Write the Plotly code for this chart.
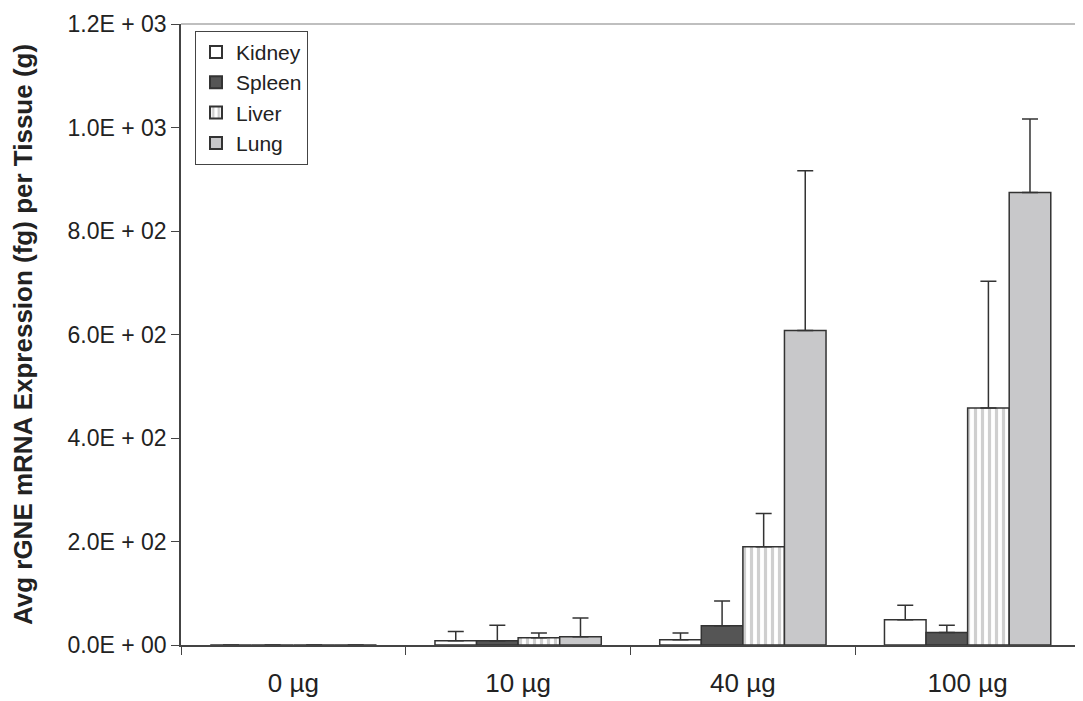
import plotly.graph_objects as go

categories = ["0 \u00b5g", "10 \u00b5g", "40 \u00b5g", "100 \u00b5g"]
kidney = [0, 8, 10, 49]
kidney_err = [None, 18, 13, 28]
spleen = [0, 8, 37, 24]
spleen_err = [None, 30, 48, 14]
liver = [0, 14, 190, 458]
liver_err = [None, 9, 64, 245]
lung = [0, 16, 608, 875]
lung_err = [None, 36, 309, 142]

y_tickvals = [0, 200, 400, 600, 800, 1000, 1200]
y_ticktext = ["0.0E + 00", "2.0E + 02", "4.0E + 02", "6.0E + 02", "8.0E + 02", "1.0E + 03", "1.2E + 03"]

FONT = "Liberation Sans, Arial, sans-serif"
EDGE = "#333333"

def err(vals):
    return dict(type="data", symmetric=False, array=vals, arrayminus=[0] * len(vals),
                color=EDGE, thickness=1.5, width=8)

fig = go.Figure()
fig.add_bar(name="Kidney", x=categories, y=kidney, error_y=err(kidney_err), legendgroup="k",
            marker=dict(color="white", line=dict(color=EDGE, width=1.5)))
fig.add_bar(name="Spleen", x=categories, y=spleen, error_y=err(spleen_err), legendgroup="s",
            marker=dict(color="#555555", line=dict(color=EDGE, width=1.5)))
fig.add_bar(name="Liver", x=categories, y=liver, error_y=err(liver_err), legendgroup="li",
            marker=dict(color="white", line=dict(color=EDGE, width=1.5),
                        pattern=dict(shape="|", fgcolor="#a0a0a0", bgcolor="white",
                                     size=7, solidity=0.45, fillmode="overlay")))
fig.add_bar(name="Lung", x=categories, y=lung, error_y=err(lung_err), legendgroup="lu",
            marker=dict(color="#c8c8ca", line=dict(color=EDGE, width=1.5)))

fig.update_layout(
    width=1075, height=693,
    margin=dict(l=173, r=3, t=12, b=54),
    paper_bgcolor="white", plot_bgcolor="white",
    barmode="group", bargap=0.26, bargroupgap=0,
    font=dict(family=FONT, color="#222222", size=23),
    showlegend=True,
    legend=dict(x=0.0156, y=0.989, xanchor="left", yanchor="top",
                bordercolor="#444444", borderwidth=1, bgcolor="white",
                font=dict(size=21), itemsizing="constant", itemwidth=30,
                tracegroupgap=1, traceorder="normal"),
    xaxis=dict(type="category", tickson="boundaries", ticks="outside", ticklen=8,
               tickcolor="#444444", showline=True, linecolor="#444444", linewidth=1.5,
               showgrid=False, tickfont=dict(size=26), zeroline=False,
               ticklabelstandoff=14),
    yaxis=dict(range=[0, 1200.5], tickvals=y_tickvals, ticktext=y_ticktext,
               ticks="outside", ticklen=8, tickcolor="#444444", ticklabeloverflow="allow",
               showline=True, linecolor="#444444", linewidth=1.5,
               showgrid=False, zeroline=False, tickfont=dict(size=23),
               title=dict(text="<b>Avg rGNE mRNA Expression (fg) per Tissue (g)</b>",
                          font=dict(size=26), standoff=34)),
    shapes=[
        dict(type="line", xref="paper", yref="paper", x0=0, x1=1.0, y0=1.0, y1=1.0,
             line=dict(color="#aaaaaa", width=1.5)),
        dict(type="line", xref="paper", yref="paper", x0=1.0, x1=1.0, y0=1.0, y1=-0.09,
             line=dict(color="#333333", width=1.5)),
    ],
)

fig.write_html("out.html")
